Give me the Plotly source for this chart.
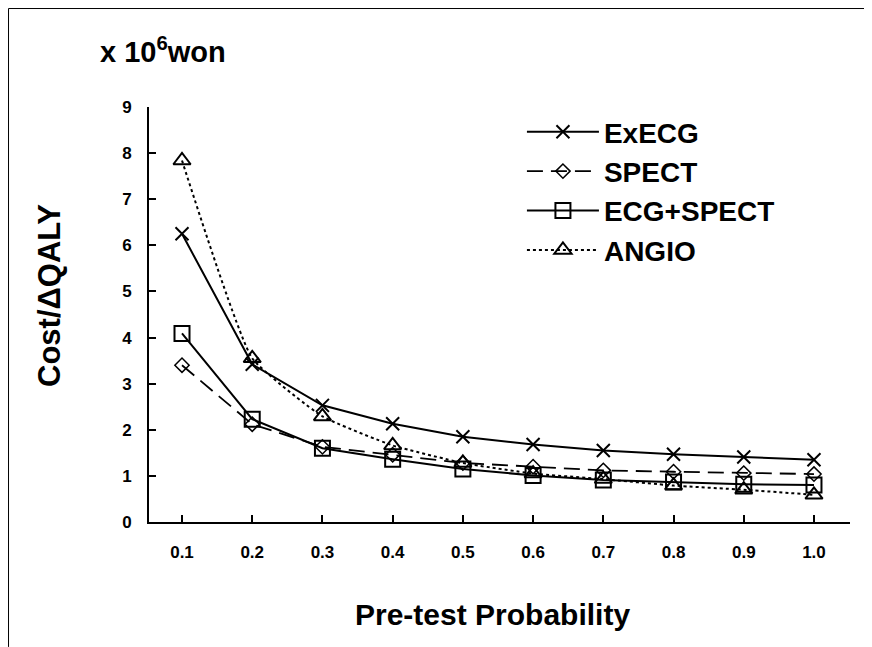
import plotly.graph_objects as go

x_prob = [0.1, 0.2, 0.3, 0.4, 0.5, 0.6, 0.7, 0.8, 0.9, 1.0]
x_ticklabels = ["0.1", "0.2", "0.3", "0.4", "0.5", "0.6", "0.7", "0.8", "0.9", "1.0"]
execg = [6.25, 3.42, 2.53, 2.13, 1.85, 1.68, 1.55, 1.47, 1.41, 1.35]
spect = [3.40, 2.12, 1.63, 1.46, 1.28, 1.20, 1.12, 1.09, 1.06, 1.04]
ecg_spect = [4.09, 2.23, 1.60, 1.36, 1.15, 1.01, 0.91, 0.87, 0.82, 0.80]
angio = [7.84, 3.55, 2.29, 1.66, 1.28, 1.05, 0.93, 0.79, 0.70, 0.59]
y_ticks = [0, 1, 2, 3, 4, 5, 6, 7, 8, 9]

FONT = "Liberation Sans"

fig = go.Figure()
fig.add_trace(go.Scatter(
    x=x_prob, y=execg, name="<b>ExECG</b>", mode="lines+markers",
    line=dict(color="black", width=2, dash="solid"),
    marker=dict(symbol="x-thin-open", size=13, color="black",
                line=dict(color="black", width=2)),
))
fig.add_trace(go.Scatter(
    x=x_prob, y=spect, name="<b>SPECT</b>", mode="lines+markers",
    line=dict(color="black", width=1.8, dash="16px,8px"),
    marker=dict(symbol="diamond-open", size=11, color="black",
                line=dict(color="black", width=1.5)),
))
fig.add_trace(go.Scatter(
    x=x_prob, y=ecg_spect, name="<b>ECG+SPECT</b>", mode="lines+markers",
    line=dict(color="black", width=2, dash="solid"),
    marker=dict(symbol="square-open", size=15, color="black",
                line=dict(color="black", width=2)),
))
fig.add_trace(go.Scatter(
    x=x_prob, y=angio, name="<b>ANGIO</b>", mode="lines+markers",
    line=dict(color="black", width=2, dash="dot", shape="spline", smoothing=0.4),
    marker=dict(symbol="triangle-up-open", size=15, color="black",
                line=dict(color="black", width=2)),
))

fig.update_layout(
    width=864, height=639,
    paper_bgcolor="white", plot_bgcolor="white",
    margin=dict(l=141, r=22, t=99, b=125),
    font=dict(family=FONT, color="black"),
    showlegend=True,
    legend=dict(
        x=0.532, y=1.0, xanchor="left", yanchor="top",
        font=dict(family=FONT, size=28, color="black"),
        bgcolor="rgba(0,0,0,0)", itemwidth=72, tracegroupgap=0,
    ),
    xaxis=dict(
        range=[0.053, 1.0513], tickvals=x_prob, ticktext=["<b>%s</b>" % t for t in x_ticklabels],
        showgrid=False, zeroline=False, showline=True, linecolor="black", linewidth=2,
        ticks="inside", ticklen=7, tickwidth=1.5, tickcolor="black",
        tickfont=dict(family=FONT, size=17, color="black"), ticklabelstandoff=14,
    ),
    yaxis=dict(
        range=[0, 9], tickvals=y_ticks, ticktext=["<b>%d</b>" % v for v in y_ticks],
        showgrid=False, zeroline=False, showline=True, linecolor="black", linewidth=2,
        ticks="inside", ticklen=7, tickwidth=1.5, tickcolor="black",
        tickfont=dict(family=FONT, size=17, color="black"), ticklabelstandoff=12,
    ),
    annotations=[
        dict(text="<b>x 10<sup>6</sup>won</b>", xref="paper", yref="paper",
             x=-0.0728, y=1.137, xanchor="left", yanchor="middle", showarrow=False,
             font=dict(family=FONT, size=29, color="black")),
        dict(text="<b>Cost/\u0394QALY</b>", xref="paper", yref="paper",
             x=-0.1412, y=0.5446, xanchor="center", yanchor="middle", textangle=-90,
             showarrow=False, font=dict(family=FONT, size=31, color="black")),
        dict(text="<b>Pre-test Probability</b>", xref="paper", yref="paper",
             x=0.4907, y=-0.2217, xanchor="center", yanchor="middle", showarrow=False,
             font=dict(family=FONT, size=30, color="black")),
    ],
    shapes=[
        dict(type="line", xref="paper", yref="paper", x0=-0.2004, x1=1.0314, y0=1.2373, y1=1.2373,
             line=dict(color="black", width=1)),
        dict(type="line", xref="paper", yref="paper", x0=-0.2004, x1=-0.2004, y0=1.2373, y1=-0.301,
             line=dict(color="black", width=1)),
    ],
)

fig.write_html("out.html")
